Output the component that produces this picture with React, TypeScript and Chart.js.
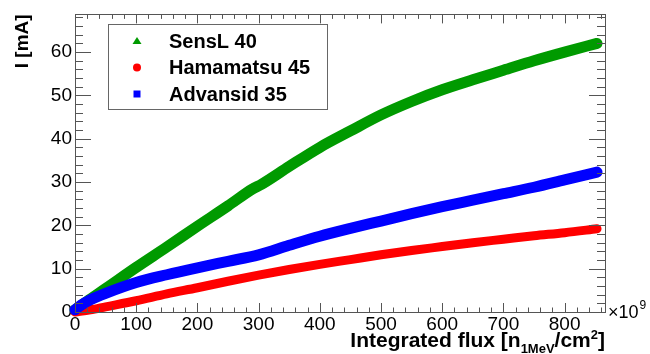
import React, { useEffect, useRef } from "react";
import { Chart, registerables } from "chart.js";

Chart.register(...registerables);

// ---- data (flux in 10^9 n_1MeV/cm^2, current in mA) ----
const seriesLabels = ["SensL 40", "Hamamatsu 45", "Advansid 35"];
const seriesColors = ["#009a00", "#ff0000", "#0000ff"];
const seriesMarkers = ["triangle", "circle", "rect"];

const fluxSensL = [0, 20, 50, 100, 150, 200, 250, 290, 305, 350, 400, 450, 500, 550, 600, 650, 700, 750, 800, 853];
const currentSensL = [0.5, 2.5, 5.4, 10.3, 15, 19.8, 24.5, 28.4, 29.5, 33.6, 38, 41.8, 45.5, 48.6, 51.3, 53.6, 55.8, 58, 60, 62];

const fluxHamamatsu = [0, 25, 50, 100, 150, 200, 250, 300, 350, 400, 450, 500, 550, 600, 650, 700, 750, 800, 853];
const currentHamamatsu = [0, 0.5, 1.2, 2.6, 4.2, 5.6, 7.1, 8.5, 9.8, 11, 12.1, 13.2, 14.2, 15.1, 16, 16.8, 17.6, 18.3, 19.2];

const fluxAdvansid = [0, 10, 25, 50, 100, 150, 200, 250, 300, 350, 400, 450, 500, 550, 600, 650, 700, 750, 800, 853];
const currentAdvansid = [0.5, 1.6, 2.8, 4.3, 6.8, 8.6, 10.2, 11.7, 13.2, 15.4, 17.5, 19.3, 21, 22.7, 24.3, 25.8, 27.3, 28.8, 30.5, 32.3];

const xMin = 0;
const xMax = 866;
const yMin = 0;
const yMax = 68.7;
const xTickStep = 100;
const yTickStep = 10;

const FONT = "'Liberation Sans', Arial, Helvetica, sans-serif";

const toPoints = (xs: number[], ys: number[]) => xs.map((x, i) => ({ x, y: ys[i] }));

const rootFramePlugin = {
  id: "rootFrame",
  afterDatasetsDraw(chart: any) {
    const ctx = chart.ctx;
    const { left, right, top, bottom } = chart.chartArea;
    const xs = chart.scales.x;
    const ys = chart.scales.y;
    ctx.save();
    ctx.strokeStyle = "#555";
    ctx.lineWidth = 1;
    ctx.beginPath();
    for (let v = xMin; v <= xMax; v += 20) {
      const px = Math.round(xs.getPixelForValue(v)) + 0.5;
      const len = v % 100 === 0 ? 9 : 4.5;
      ctx.moveTo(px, bottom);
      ctx.lineTo(px, bottom - len);
      ctx.moveTo(px, top);
      ctx.lineTo(px, top + len);
    }
    for (let v = yMin; v <= yMax; v += 2) {
      const py = Math.round(ys.getPixelForValue(v)) + 0.5;
      const len = v % 10 === 0 ? 16 : 8;
      ctx.moveTo(left, py);
      ctx.lineTo(left + len, py);
      ctx.moveTo(right, py);
      ctx.lineTo(right - len, py);
    }
    ctx.stroke();
    ctx.strokeRect(Math.round(left) + 0.5, Math.round(top) + 0.5, Math.round(right - left), Math.round(bottom - top));
    ctx.restore();
  },
  afterDraw(chart: any) {
    const ctx = chart.ctx;
    const { right } = chart.chartArea;
    ctx.save();

    // legend
    const bx = 108.5, by = 24.5, bw = 219, bh = 85;
    ctx.fillStyle = "#fff";
    ctx.fillRect(bx, by, bw, bh);
    ctx.strokeStyle = "#666";
    ctx.lineWidth = 1;
    ctx.strokeRect(bx, by, bw, bh);
    const rowsY = [41, 67.5, 94];
    chart.data.datasets.forEach((ds: any, i: number) => {
      const y = rowsY[i];
      const mx = 137;
      ctx.fillStyle = seriesColors[i];
      ctx.beginPath();
      if (seriesMarkers[i] === "triangle") {
        ctx.moveTo(mx, y - 4);
        ctx.lineTo(mx + 4.5, y + 3);
        ctx.lineTo(mx - 4.5, y + 3);
        ctx.closePath();
      } else if (seriesMarkers[i] === "circle") {
        ctx.arc(mx, y, 4, 0, Math.PI * 2);
      } else {
        ctx.rect(mx - 3.5, y - 3.5, 7, 7);
      }
      ctx.fill();
      ctx.fillStyle = "#000";
      ctx.font = `bold 20px ${FONT}`;
      ctx.textAlign = "left";
      ctx.textBaseline = "middle";
      ctx.fillText(ds.label, 169, y + 1);
    });

    // x axis title with sub/superscript, right-aligned to frame
    const main = `bold 21px ${FONT}`;
    const small = `bold 13px ${FONT}`;
    const parts = [
      { t: "Integrated flux [n", f: main, dy: 0 },
      { t: "1MeV", f: small, dy: 6 },
      { t: "/cm", f: main, dy: 0 },
      { t: "2", f: small, dy: -8 },
      { t: "]", f: main, dy: 0 },
    ];
    let total = 0;
    parts.forEach((p) => {
      ctx.font = p.f;
      total += ctx.measureText(p.t).width;
    });
    let x = right - total;
    const baseY = 347;
    ctx.textAlign = "left";
    ctx.textBaseline = "alphabetic";
    ctx.fillStyle = "#000";
    parts.forEach((p) => {
      ctx.font = p.f;
      ctx.fillText(p.t, x, baseY + p.dy);
      x += ctx.measureText(p.t).width;
    });

    // exponent label
    ctx.font = `18px ${FONT}`;
    ctx.fillText("\u00d710", right + 3, 318);
    const w = ctx.measureText("\u00d710").width;
    ctx.font = `12px ${FONT}`;
    ctx.fillText("9", right + 3 + w + 1, 309);

    ctx.restore();
  },
};

export default function App() {
  const ref = useRef<HTMLCanvasElement | null>(null);

  useEffect(() => {
    if (!ref.current) return;
    const data = [
      toPoints(fluxSensL, currentSensL),
      toPoints(fluxHamamatsu, currentHamamatsu),
      toPoints(fluxAdvansid, currentAdvansid),
    ];
    const widths = [11, 9, 11];
    const orders = [2, 1, 0];
    const chart = new Chart(ref.current, {
      type: "line",
      data: {
        datasets: seriesLabels.map((label, i) => ({
          label,
          data: data[i],
          borderColor: seriesColors[i],
          backgroundColor: seriesColors[i],
          borderWidth: widths[i],
          borderCapStyle: "round",
          borderJoinStyle: "round",
          pointRadius: 0,
          pointStyle: seriesMarkers[i],
          cubicInterpolationMode: "monotone",
          fill: false,
          order: orders[i],
          clip: false,
        })) as any,
      },
      options: {
        responsive: false,
        animation: false,
        layout: { padding: { top: 5, right: 45, left: 0, bottom: 0 } },
        plugins: { legend: { display: false }, tooltip: { enabled: false } },
        scales: {
          x: {
            type: "linear",
            min: xMin,
            max: xMax,
            grid: { display: false, drawTicks: false },
            border: { display: false },
            ticks: {
              stepSize: xTickStep,
              includeBounds: false,
              padding: 1,
              color: "#000",
              maxRotation: 0,
              font: { family: FONT, size: 19 },
            },
            afterFit: (s: any) => {
              s.height = 42;
            },
          },
          y: {
            type: "linear",
            min: yMin,
            max: yMax,
            grid: { display: false, drawTicks: false },
            border: { display: false },
            title: {
              display: true,
              text: "I [mA]",
              align: "end",
              color: "#000",
              font: { family: FONT, size: 19, weight: "bold" },
              padding: { top: 11, bottom: 0 },
            },
            ticks: {
              stepSize: yTickStep,
              includeBounds: false,
              padding: 3,
              color: "#000",
              font: { family: FONT, size: 19 },
            },
            afterFit: (s: any) => {
              s.width = 75;
            },
          },
        },
      } as any,
      plugins: [rootFramePlugin],
    });
    return () => chart.destroy();
  }, []);

  return (
    <div style={{ position: "absolute", left: 0, top: 0, width: 650, height: 354, background: "#fff" }}>
      <canvas ref={ref} width={650} height={354} style={{ width: 650, height: 354 }} />
    </div>
  );
}
